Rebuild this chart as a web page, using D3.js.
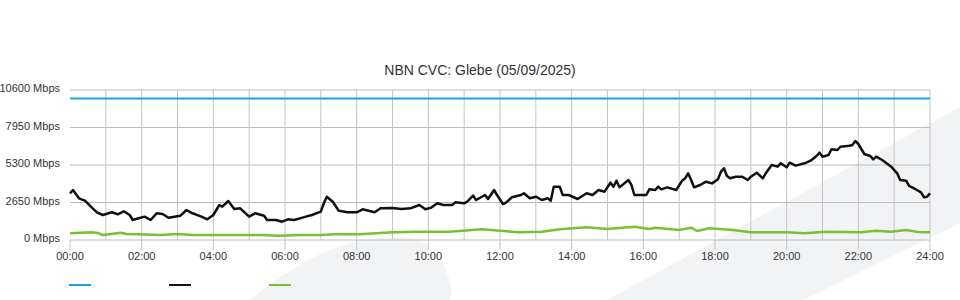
<!DOCTYPE html>
<html>
<head>
<meta charset="utf-8">
<script src="https://cdn.jsdelivr.net/npm/d3@7"></script>
<style>
  html, body { margin: 0; padding: 0; background: #fff; }
  svg { display: block; font-family: "Liberation Sans", Arial, Helvetica, sans-serif; }
</style>
</head>
<body>
<svg id="chart" width="960" height="300"></svg>
<script>
// ---------- data ----------
const title = "NBN CVC: Glebe (05/09/2025)";
const yTicks = [0, 2650, 5300, 7950, 10600];
const xTickLabels = ["00:00","02:00","04:00","06:00","08:00","10:00","12:00","14:00","16:00","18:00","20:00","22:00","24:00"];

// capacity (blue)
const capacityTimes = ["00:00", "24:00"];
const capacityValues = [10000, 10000];

// utilisation (black)
const usageTimes = ["00:00","00:05","00:15","00:25","00:35","00:45","00:55","01:10","01:20","01:30","01:40","01:45","01:55","02:05","02:15","02:25","02:35","02:45","02:55","03:05","03:15","03:25","03:30","03:40","03:50","04:00","04:10","04:15","04:25","04:35","04:45","05:00","05:10","05:25","05:30","05:45","05:55","06:05","06:15","06:25","06:35","06:45","07:00","07:05","07:10","07:20","07:30","07:45","08:00","08:10","08:30","08:40","09:00","09:15","09:30","09:45","09:55","10:05","10:15","10:25","10:40","10:45","11:00","11:05","11:15","11:20","11:35","11:40","11:50","11:55","12:05","12:10","12:20","12:35","12:40","12:50","13:00","13:10","13:20","13:25","13:30","13:40","13:45","13:55","14:10","14:25","14:35","14:45","14:55","15:05","15:10","15:15","15:20","15:35","15:40","15:45","16:05","16:10","16:20","16:25","16:30","16:40","16:55","17:05","17:10","17:15","17:20","17:25","17:35","17:45","17:55","18:05","18:10","18:15","18:20","18:25","18:35","18:45","18:55","19:00","19:10","19:20","19:25","19:35","19:45","19:50","20:00","20:05","20:15","20:30","20:40","20:50","20:55","21:00","21:10","21:15","21:25","21:30","21:45","21:50","21:55","22:00","22:10","22:20","22:25","22:30","22:40","22:55","23:05","23:10","23:20","23:25","23:35","23:45","23:50","23:55","24:00"];
const usageValues = [3300,3533,2947,2777,2353,1957,1767,1957,1816,2028,1767,1413,1533,1650,1413,1887,1837,1576,1650,1717,2120,1887,1816,1650,1463,1767,2473,2353,2756,2190,2240,1650,1887,1717,1413,1413,1293,1463,1413,1530,1650,1767,2000,2594,3060,2706,2070,1957,1957,2170,1957,2240,2260,2190,2240,2473,2170,2290,2594,2473,2473,2664,2594,2706,3131,2827,3180,2897,3533,3180,2544,2640,3017,3180,3300,2947,3060,2827,2947,2780,3767,3767,3180,3180,2897,3300,3180,3533,3415,4050,3770,4190,3720,4240,3890,3180,3180,3580,3534,3770,3580,3721,3534,4193,4360,4710,4240,3721,3887,4120,4000,4288,4830,5067,4523,4360,4475,4475,4240,4475,4756,4360,4710,5300,5183,5420,5136,5464,5253,5420,5604,5936,6170,5888,6006,6410,6360,6590,6660,6714,6996,6784,6077,5936,5700,5890,5653,5183,4710,4240,4193,3817,3605,3370,3015,3060,3300];

// green series
const otherTimes = ["00:00","00:35","00:45","00:55","01:25","01:35","01:55","02:30","03:00","03:25","04:20","05:20","05:50","06:25","07:00","07:30","08:05","09:00","09:40","10:35","11:30","12:00","12:30","13:10","13:40","14:25","15:00","15:45","16:10","16:20","17:00","17:20","17:30","17:50","18:30","19:00","20:00","20:30","21:05","22:05","22:30","22:55","23:20","23:40","24:00"];
const otherValues = [473,541,518,353,518,420,400,353,420,353,353,353,306,353,353,420,400,541,589,589,754,660,541,589,754,895,777,942,777,872,707,872,636,825,707,542,542,473,589,542,660,589,707,560,542];

const seriesColors = ["#1fa2dc", "#111111", "#7cbf35"];
const seriesWidths = [2, 2.5, 2.5];

// ---------- helpers ----------
const toMin = s => { const [h, m] = s.split(":").map(Number); return h * 60 + m; };
const zip = (t, v) => t.map((d, i) => ({ t: toMin(d), v: v[i] }));

const svg = d3.select("#chart");
const W = 960, H = 300;
const margin = { left: 70, right: 30, top: 90, bottom: 60 };

const x = d3.scaleLinear().domain([0, 1440]).range([margin.left, W - margin.right]);
const y = d3.scaleLinear().domain([0, 10600]).range([H - margin.bottom, margin.top]);

// ---------- background watermark ----------
const wm = svg.append("g").attr("fill", "#f2f3f5");
wm.append("path").attr("d", "M250,300 C282,274 322,248 360,241 C386,236 406,236 418,240 C436,247 446,264 452,290 L450,300 Z");
wm.append("path").attr("d", "M607,300 L960,107 L960,223 L803,300 Z");

// ---------- grid ----------
const grid = svg.append("g");
grid.selectAll("line.hg").data(yTicks).join("line")
  .attr("x1", x(0)).attr("x2", x(1440))
  .attr("y1", d => y(d)).attr("y2", d => y(d))
  .attr("stroke", "#bcbcbc").attr("stroke-width", 1);
grid.selectAll("line.vg").data(d3.range(60, 1441, 60)).join("line")
  .attr("x1", d => x(d)).attr("x2", d => x(d))
  .attr("y1", y(10600)).attr("y2", y(0))
  .attr("stroke", "#c4c4c4").attr("stroke-width", 1);

// x ticks
const xTickVals = xTickLabels.map(toMin);
grid.selectAll("line.xt").data(xTickVals).join("line")
  .attr("x1", d => x(d)).attr("x2", d => x(d))
  .attr("y1", y(0)).attr("y2", y(0) + 10)
  .attr("stroke", "#c4c4c4").attr("stroke-width", 1);

svg.append("g").selectAll("text").data(xTickLabels).join("text")
  .attr("x", d => x(toMin(d))).attr("y", y(0) + 20)
  .attr("text-anchor", "middle").attr("font-size", 11).attr("fill", "#333")
  .text(d => d);

svg.append("g").selectAll("text").data(yTicks).join("text")
  .attr("x", 60).attr("y", d => y(d) + 2)
  .attr("text-anchor", "end").attr("font-size", 11).attr("fill", "#333")
  .text(d => d + " Mbps");

// ---------- title ----------
svg.append("text").attr("x", 480).attr("y", 75)
  .attr("text-anchor", "middle").attr("font-size", 14).attr("fill", "#333")
  .text(title);

// ---------- lines ----------
const line = d3.line().x(d => x(d.t)).y(d => y(d.v));
const series = [zip(capacityTimes, capacityValues), zip(usageTimes, usageValues), zip(otherTimes, otherValues)];
svg.append("g").selectAll("path").data(series).join("path")
  .attr("d", line)
  .attr("fill", "none")
  .attr("stroke", (d, i) => seriesColors[i])
  .attr("stroke-width", (d, i) => seriesWidths[i])
  .attr("stroke-linejoin", "round");

// ---------- legend ----------
svg.append("g").selectAll("line").data(seriesColors).join("line")
  .attr("x1", (d, i) => 69 + i * 100).attr("x2", (d, i) => 91 + i * 100)
  .attr("y1", 285).attr("y2", 285)
  .attr("stroke", d => d).attr("stroke-width", 2);
</script>
</body>
</html>
